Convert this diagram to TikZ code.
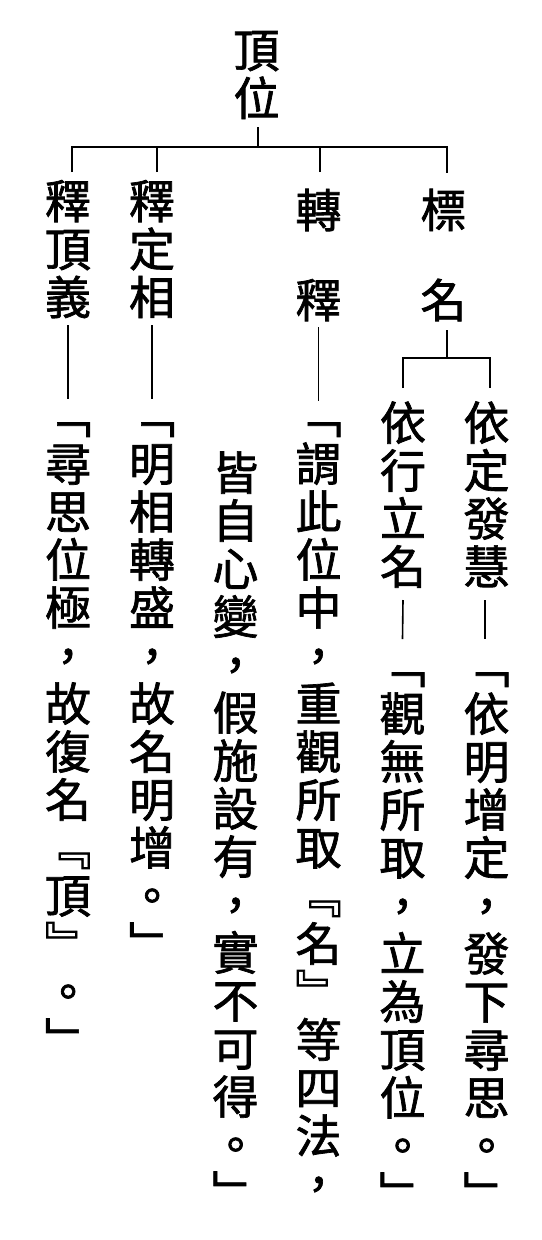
\documentclass[tikz,border=0pt]{standalone}
\usepackage{fontspec}
\newfontfamily\cjk[FakeBold=1.5]{Noto Sans CJK TC}
\makeatletter
\newcommand\vt[2][48pt]{\vbox{\offinterlineskip\def\vp{#1}\vtl#2\relax}}
\def\vtl#1{\ifx#1\relax\else\vcell{#1}\expandafter\vtl\fi}
\newcommand\vcell[1]{\hbox to\vp{\hss\vbox to\vp{\vss\hbox{\vrule width0pt height.88em depth.12em\smash{#1}}\vss}\hss}}
\newcommand\bc{\phantom{口}}
\makeatother
\tikzset{
  vcol/.style={inner sep=0pt, outer sep=0pt, anchor=north, font=\cjk\fontsize{46}{48}\selectfont},
  conn/.style={line width=1.6pt, black}
}
\begin{document}
\begin{tikzpicture}[x=1pt,y=-1pt]
\useasboundingbox[fill=white] (0,0) rectangle (541,1240);
% root
\node[vcol] (root) at (256.5,26) {\vt{頂位}};
% first level labels
\node[vcol] (l1) at (68,177) {\vt{釋頂義}};
\node[vcol] (l2) at (152,177) {\vt{釋定相}};
\node[vcol] (l4) at (318.5,187.5) {\vt[45pt]{轉\bc 釋}};
\node[vcol] (lb) at (443.5,187.5) {\vt[45pt]{標\bc 名}};
% second level labels under 標名
\node[vcol] (l5) at (403,398.5) {\vt{依行立名}};
\node[vcol] (l6) at (486.5,398.5) {\vt{依定發慧}};
% quotations
\node[vcol] (q1) at (68,391.5) {\vt{﹁尋思位極，故復名﹃頂﹄。﹂}};
\node[vcol] (q2) at (152,391.5) {\vt{﹁明相轉盛，故名明增。﹂}};
\node[vcol] (q3) at (235.5,448.5) {\vt{皆自心變，假施設有，實不可得。﹂}};
\node[vcol] (q4) at (318.5,391.5) {\vt{﹁謂此位中，重觀所取﹃名﹄等四法，}};
\node[vcol] (q5) at (402.5,641.5) {\vt{﹁觀無所取，立為頂位。﹂}};
\node[vcol] (q6) at (486.5,641.5) {\vt{﹁依明增定，發下尋思。﹂}};
% tree connectors
\draw[conn] ([xshift=1.5pt,yshift=-5pt]root.south) -- ++(0,20);
\draw[conn] ([xshift=4pt,yshift=5pt]l1.north) -- ++(0,-25) -| ([xshift=3.5pt,yshift=14.5pt]lb.north);
\draw[conn] ([xshift=5pt,yshift=5pt]l2.north) -- ++(0,-25);
\draw[conn] ([xshift=1.5pt,yshift=15.5pt]l4.north) -- ++(0,-25);
\draw[conn] ([xshift=3.5pt,yshift=-7.5pt]lb.south) -- ++(0,28);
\draw[conn] ([yshift=10.5pt]l5.north) -- ++(0,-30) -| ([xshift=3.5pt,yshift=10.5pt]l6.north);
% label-to-quotation connectors
\draw[conn] ([yshift=-4pt]l1.south) -- ([yshift=-7.5pt]q1.north);
\draw[conn] ([yshift=-4pt]l2.south) -- ([yshift=-7.5pt]q2.north);
\draw[conn] ([yshift=-4.5pt]l4.south) -- ([yshift=-9.5pt]q4.north);
\draw[conn] ([yshift=-9.5pt]l5.south) -- ([yshift=2.5pt]q5.north);
\draw[conn] ([xshift=-1.5pt,yshift=-9.5pt]l6.south) -- ([xshift=-1.5pt,yshift=2.5pt]q6.north);
\end{tikzpicture}
\end{document}
